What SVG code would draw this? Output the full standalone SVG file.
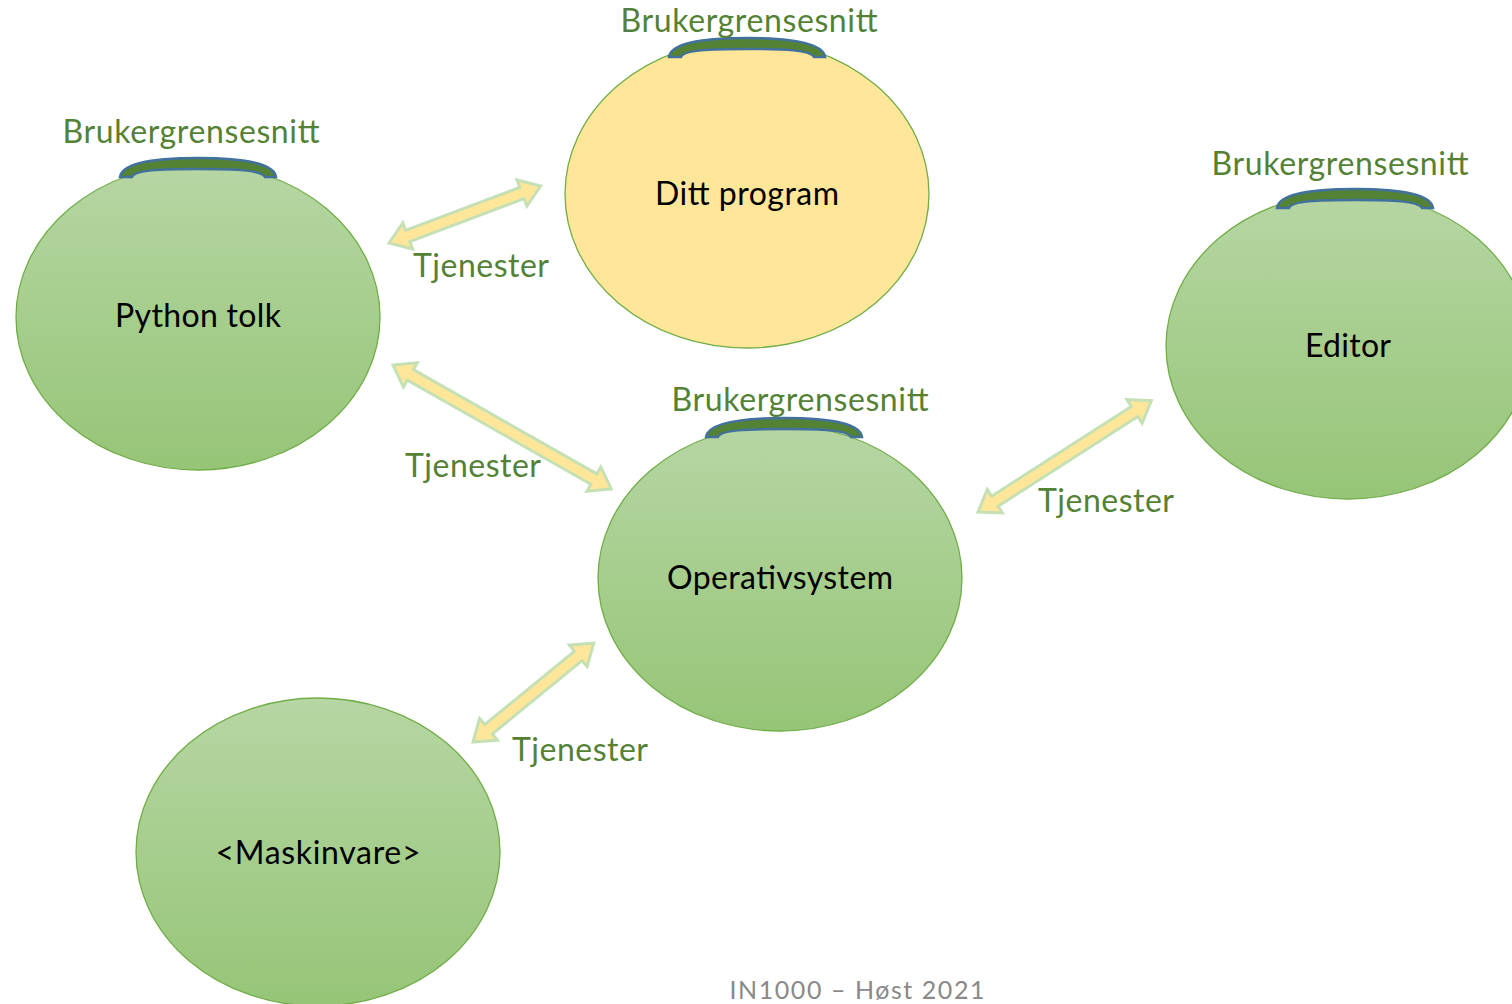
<svg xmlns="http://www.w3.org/2000/svg" width="1512" height="1004" viewBox="0 0 1512 1004">
<defs>
<linearGradient id="g" x1="0" y1="0" x2="0" y2="1">
<stop offset="0" stop-color="#b6d6a3"/>
<stop offset="1" stop-color="#96c577"/>
</linearGradient>
<path id="ui" d="M-78,0 C-76,-15 -38,-19 0,-19 C38,-19 76,-15 78,0 L67,0 C63,-7 38,-8 0,-8 C-38,-8 -63,-7 -66,0 Z"/>
</defs>
<style>
.node{fill:url(#g);stroke:#70ad47;stroke-width:1.3}
.yel{fill:#ffe699;stroke:#70ad47;stroke-width:1.3}
.ui{fill:#548235;stroke:#41719c;stroke-width:2.5}
.lbl{font-family:Lato,"Open Sans",sans-serif;font-size:32px;fill:#548235;text-anchor:middle}
.txt{font-family:Lato,"Open Sans",sans-serif;font-size:32px;fill:#000;text-anchor:middle}
.arr{fill:#ffe699;stroke:#c5e0b4;stroke-width:3;stroke-linejoin:miter}
.foot{font-family:Lato,"Open Sans",sans-serif;font-size:25px;fill:#898989;text-anchor:middle}
</style>
<rect width="1512" height="1004" fill="#fff"/>
<g id="connectors">
<polygon class="arr" transform="translate(389,243) rotate(-20.6)" points="0,0 20,-14 20,-6 142,-6 142,-14 162,0 142,14 142,6 20,6 20,14"/>
<polygon class="arr" transform="translate(393,365) rotate(29.6)" points="0,0 20,-14 20,-6 231,-6 231,-14 251,0 231,14 231,6 20,6 20,14"/>
<polygon class="arr" transform="translate(473,742) rotate(-39.3)" points="0,0 20,-14 20,-6 136,-6 136,-14 156,0 136,14 136,6 20,6 20,14"/>
<polygon class="arr" transform="translate(978,512) rotate(-32.7)" points="0,0 20,-14 20,-6 186,-6 186,-14 206,0 186,14 186,6 20,6 20,14"/>
<text class="lbl" x="481" y="277" textLength="136">Tjenester</text>
<text class="lbl" x="473" y="477" textLength="136">Tjenester</text>
<text class="lbl" x="1106" y="512" textLength="136">Tjenester</text>
<text class="lbl" x="580" y="761" textLength="136">Tjenester</text>
</g>
<g id="python-tolk">
<ellipse class="node" cx="198" cy="317" rx="182" ry="153"/>
<use href="#ui" class="ui" x="198" y="177"/>
<text class="lbl" x="191" y="143" textLength="257">Brukergrensesnitt</text>
<text class="txt" x="198" y="327" textLength="166">Python tolk</text>
</g>
<g id="ditt-program">
<ellipse class="yel" cx="747" cy="194" rx="182" ry="154"/>
<use href="#ui" class="ui" x="747" y="57"/>
<text class="lbl" x="749" y="32" textLength="257">Brukergrensesnitt</text>
<text class="txt" x="747" y="205" textLength="184">Ditt program</text>
</g>
<g id="editor">
<ellipse class="node" cx="1348" cy="346" rx="182" ry="153"/>
<use href="#ui" class="ui" x="1355" y="208"/>
<text class="lbl" x="1340" y="175" textLength="257">Brukergrensesnitt</text>
<text class="txt" x="1348" y="357" textLength="86">Editor</text>
</g>
<g id="operativsystem">
<ellipse class="node" cx="780" cy="578" rx="182" ry="153"/>
<use href="#ui" class="ui" x="784" y="437"/>
<text class="lbl" x="800" y="411" textLength="257">Brukergrensesnitt</text>
<text class="txt" x="780" y="589" textLength="226">Operativsystem</text>
</g>
<g id="maskinvare">
<ellipse class="node" cx="318" cy="852" rx="182" ry="154"/>
<text class="txt" x="318" y="864" textLength="205">&lt;Maskinvare&gt;</text>
</g>
<text class="foot" x="857" y="999" textLength="255">IN1000 – Høst 2021</text>
</svg>
